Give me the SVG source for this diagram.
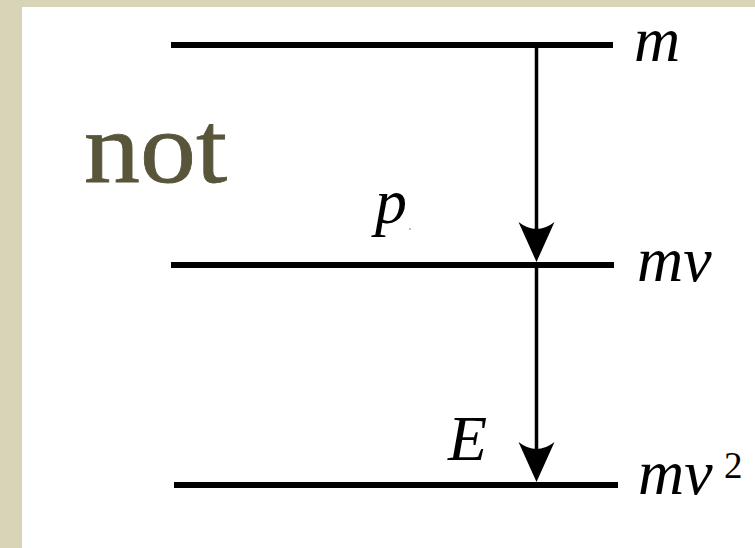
<svg xmlns="http://www.w3.org/2000/svg" width="755" height="548" viewBox="0 0 755 548">
<style>
.lvl{stroke:#000;stroke-width:6;fill:none}
.arr{stroke:#000;stroke-width:3.5;fill:none}
.math{font-family:"Liberation Serif","Times New Roman",serif;font-style:italic;font-size:64px;fill:#000}
.sup{font-family:"Liberation Serif","Times New Roman",serif;font-size:37px;fill:#000}
.word{font-family:"Liberation Serif","Times New Roman",serif;font-size:102px;fill:#58553a;stroke:#58553a;stroke-width:0.8}
</style>
<defs>
<path id="head" d="M0,0 L-18,-40 Q0,-26 18,-40 Z" fill="#000"/>
</defs>
<rect x="0" y="0" width="755" height="548" fill="#d8d4b8"/>
<rect x="22" y="7" width="733" height="541" fill="#fff"/>
<g id="level-m">
<line class="lvl" x1="171" y1="45" x2="613" y2="45"/>
<text class="math" x="634" y="61">m</text>
</g>
<g id="level-mv">
<line class="lvl" x1="171" y1="265" x2="614" y2="265"/>
<text class="math" x="637" y="281">mv</text>
</g>
<g id="level-mv2">
<line class="lvl" x1="174" y1="485" x2="618" y2="485"/>
<text class="math" x="638" y="494">mv</text>
<text class="sup" x="724" y="478">2</text>
</g>
<g id="label-not">
<text class="word" x="84" y="182" textLength="143" lengthAdjust="spacingAndGlyphs">not</text>
</g>
<g id="label-p">
<text class="math" x="375" y="223">p</text>
<circle cx="410" cy="229" r="0.8" fill="#666"/>
</g>
<g id="label-E">
<text class="math" x="448" y="460">E</text>
</g>
<g id="connectors">
<line class="arr" x1="536.5" y1="45" x2="536.5" y2="252"/>
<use href="#head" x="536.5" y="262"/>
<line class="arr" x1="536.5" y1="265" x2="536.5" y2="472"/>
<use href="#head" x="536.5" y="482"/>
</g>
</svg>
